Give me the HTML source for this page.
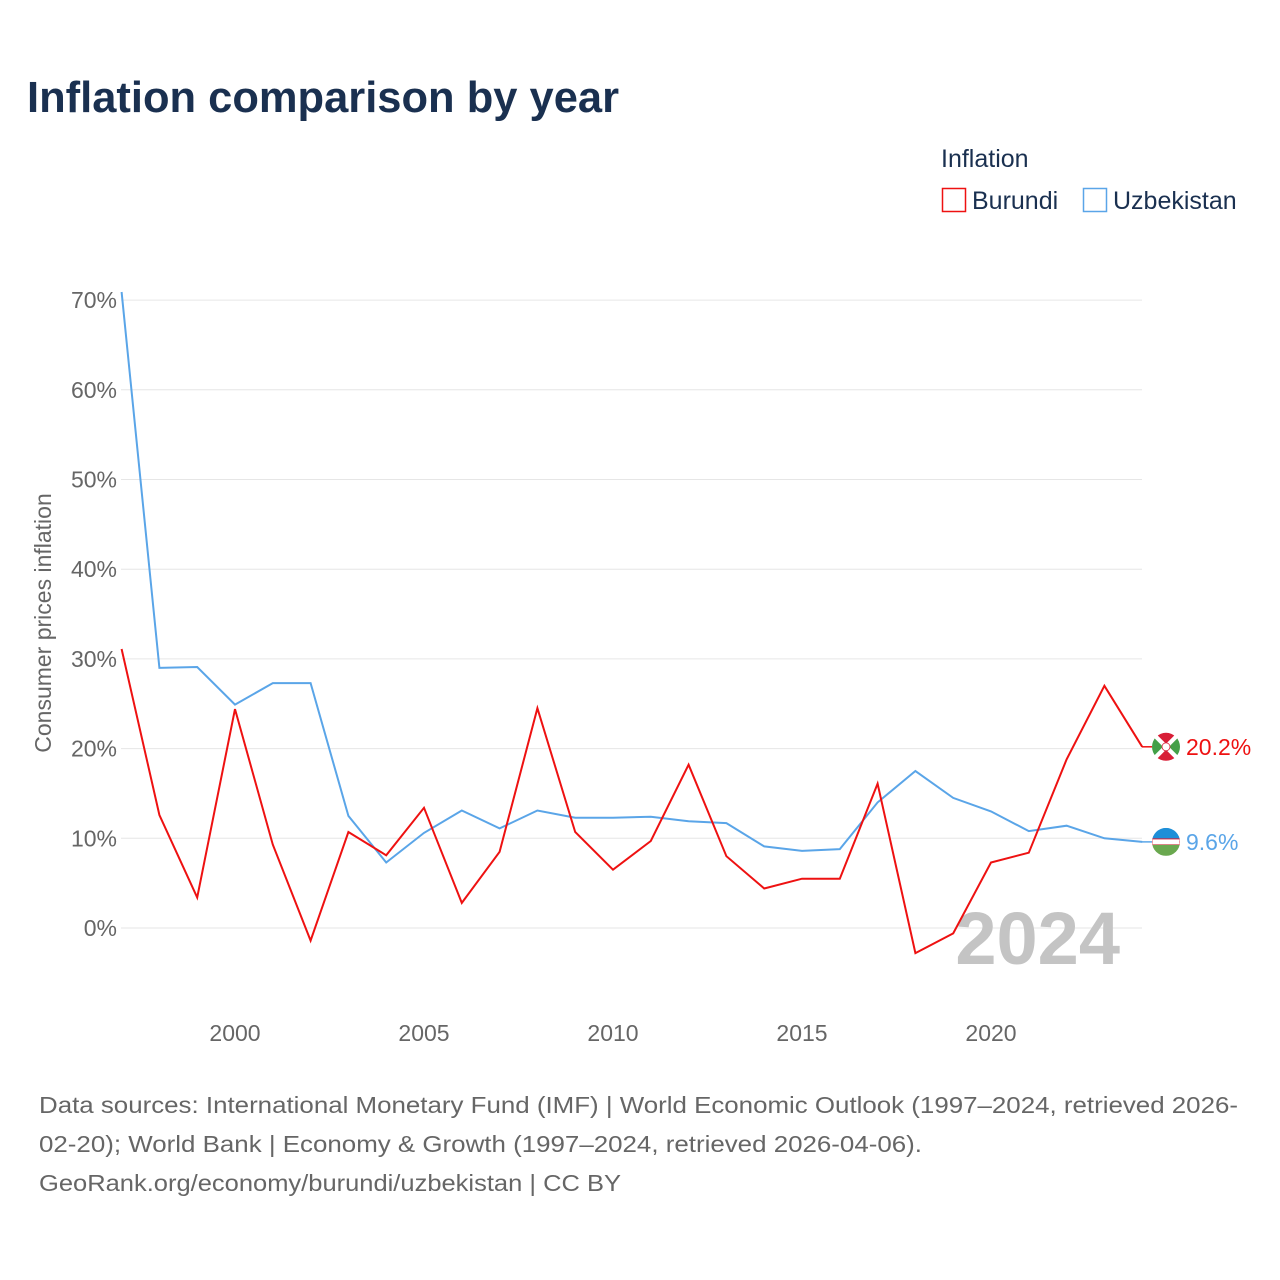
<!DOCTYPE html>
<html><head><meta charset="utf-8">
<style>
body{margin:0;background:#fff;font-family:"Liberation Sans",sans-serif;}
#wrap{position:relative;width:1280px;height:1280px;overflow:hidden;}
</style></head>
<body>
<div id="wrap">
<svg id="chart" width="1280" height="1280" xmlns="http://www.w3.org/2000/svg">
<text x="27" y="112" font-size="44" font-weight="bold" fill="#1a3050" textLength="592" lengthAdjust="spacingAndGlyphs">Inflation comparison by year</text>
<text x="941" y="167" font-size="25" fill="#1a3050">Inflation</text>
<g>
<rect x="942.5" y="188.5" width="23" height="23" fill="none" stroke="#ee1111" stroke-width="1.5"/>
<text x="972" y="209" font-size="25" fill="#1a3050">Burundi</text></g>
<g>
<rect x="1083.5" y="188.5" width="23" height="23" fill="none" stroke="#5aa5e8" stroke-width="1.5"/>
<text x="1113" y="209" font-size="25" fill="#1a3050">Uzbekistan</text></g>
<text transform="translate(51,623) rotate(-90)" text-anchor="middle" font-size="23" fill="#666">Consumer prices inflation</text>
<g id="grid"></g><g id="yticks"></g><g id="xticks"></g>
<text x="1120" y="964" text-anchor="end" font-size="74" font-weight="bold" fill="#c4c4c4">2024</text>
<g id="series"></g>
<g font-size="23" fill="#666">
<text x="39" y="1113" textLength="1199" lengthAdjust="spacingAndGlyphs">Data sources: International Monetary Fund (IMF) | World Economic Outlook (1997–2024, retrieved 2026-</text>
<text x="39" y="1152" textLength="883" lengthAdjust="spacingAndGlyphs">02-20); World Bank | Economy &amp; Growth (1997–2024, retrieved 2026-04-06).</text>
<text x="39" y="1191" textLength="582" lengthAdjust="spacingAndGlyphs">GeoRank.org/economy/burundi/uzbekistan | CC BY</text>
</g>
</svg>
</div>
<script>
const years=[1997,1998,1999,2000,2001,2002,2003,2004,2005,2006,2007,2008,2009,2010,2011,2012,2013,2014,2015,2016,2017,2018,2019,2020,2021,2022,2023,2024];
const burundi=[31.1,12.6,3.4,24.4,9.3,-1.4,10.7,8.1,13.4,2.8,8.5,24.5,10.7,6.5,9.7,18.2,8.0,4.4,5.5,5.5,16.1,-2.8,-0.6,7.3,8.4,18.8,27.0,20.2];
const uzbekistan=[70.9,29.0,29.1,24.9,27.3,27.3,12.5,7.3,10.6,13.1,11.1,13.1,12.3,12.3,12.4,11.9,11.7,9.1,8.6,8.8,14.0,17.5,14.5,13.0,10.8,11.4,10.0,9.6];
const yTicks=[0,10,20,30,40,50,60,70];
const xTicks=[2000,2005,2010,2015,2020];
const NS="http://www.w3.org/2000/svg";
const x=v=>121.6+(v-1997)*37.8;
const y=v=>928-v*8.97;
function mk(t,a,p){const e=document.createElementNS(NS,t);for(const k in a)e.setAttribute(k,a[k]);p.appendChild(e);return e;}
const grid=document.getElementById('grid'),yt=document.getElementById('yticks'),xt=document.getElementById('xticks'),ser=document.getElementById('series');
yTicks.forEach(v=>{
 const l=mk('line',{x1:121,x2:1142,y1:y(v),y2:y(v),stroke:'#e6e6e6','stroke-width':1},grid);
 
 
 const t=mk('text',{x:117,y:y(v)+8,'text-anchor':'end','font-size':23,fill:'#666'},yt);
 t.textContent=v+'%';
 
 
});
xTicks.forEach(v=>{
 const t=mk('text',{x:x(v),y:1041,'text-anchor':'middle','font-size':23,fill:'#666'},xt);
 t.textContent=v;
 
 
});
function line(data,color,name){
 const d=data.map((v,i)=>(i?'L':'M')+x(years[i]).toFixed(1)+' '+y(v).toFixed(1)).join(' ');
 const p=mk('path',{d:d,fill:'none',stroke:color,'stroke-width':2},ser);
 
 
}
line(uzbekistan,'#5aa5e8','uzbekistan');
line(burundi,'#ee1111','burundi');
const defs=mk('defs',{},document.getElementById('chart'));
function endLabel(data,color,name,flag){
 const v=data[data.length-1],yy=y(v),cx=1166;
 const g=mk('g',{},ser);
 
 
 mk('line',{x1:1142,x2:1152,y1:yy,y2:yy,stroke:color,'stroke-width':1.5},g);
 const cp=mk('clipPath',{id:'clip-'+name},defs);
 mk('circle',{cx:cx,cy:yy,r:14},cp);
 const fg=mk('g',{'clip-path':'url(#clip-'+name+')'},g);
 mk('circle',{cx:cx,cy:yy,r:14,fill:'#fff'},fg);
 flag(fg,cx,yy);
 const t=mk('text',{x:1186,y:yy+8,'font-size':23,fill:color},g);
 t.textContent=v.toFixed(1)+'%';
}
endLabel(burundi,'#ee1111','burundi',(g,cx,cy)=>{
 mk('path',{d:`M${cx-15} ${cy-12}L${cx-3} ${cy}L${cx-15} ${cy+12}Z`,fill:'#43a047'},g);
 mk('path',{d:`M${cx+15} ${cy-12}L${cx+3} ${cy}L${cx+15} ${cy+12}Z`,fill:'#43a047'},g);
 mk('path',{d:`M${cx-12} ${cy-15}L${cx} ${cy-3}L${cx+12} ${cy-15}Z`,fill:'#d81e36'},g);
 mk('path',{d:`M${cx-12} ${cy+15}L${cx} ${cy+3}L${cx+12} ${cy+15}Z`,fill:'#d81e36'},g);
 mk('circle',{cx:cx,cy:cy,r:4,fill:'#fff',stroke:'#d81e36','stroke-width':0.8},g);
});
endLabel(uzbekistan,'#5aa5e8','uzbekistan',(g,cx,cy)=>{
 mk('rect',{x:cx-14,y:cy-14,width:28,height:11,fill:'#1e8fd8'},g);
 mk('rect',{x:cx-14,y:cy-3,width:28,height:6,fill:'#fff',stroke:'#d81e36','stroke-width':1},g);
 mk('rect',{x:cx-14,y:cy+3,width:28,height:11,fill:'#6aa84f'},g);
});
</script>
</body></html>
